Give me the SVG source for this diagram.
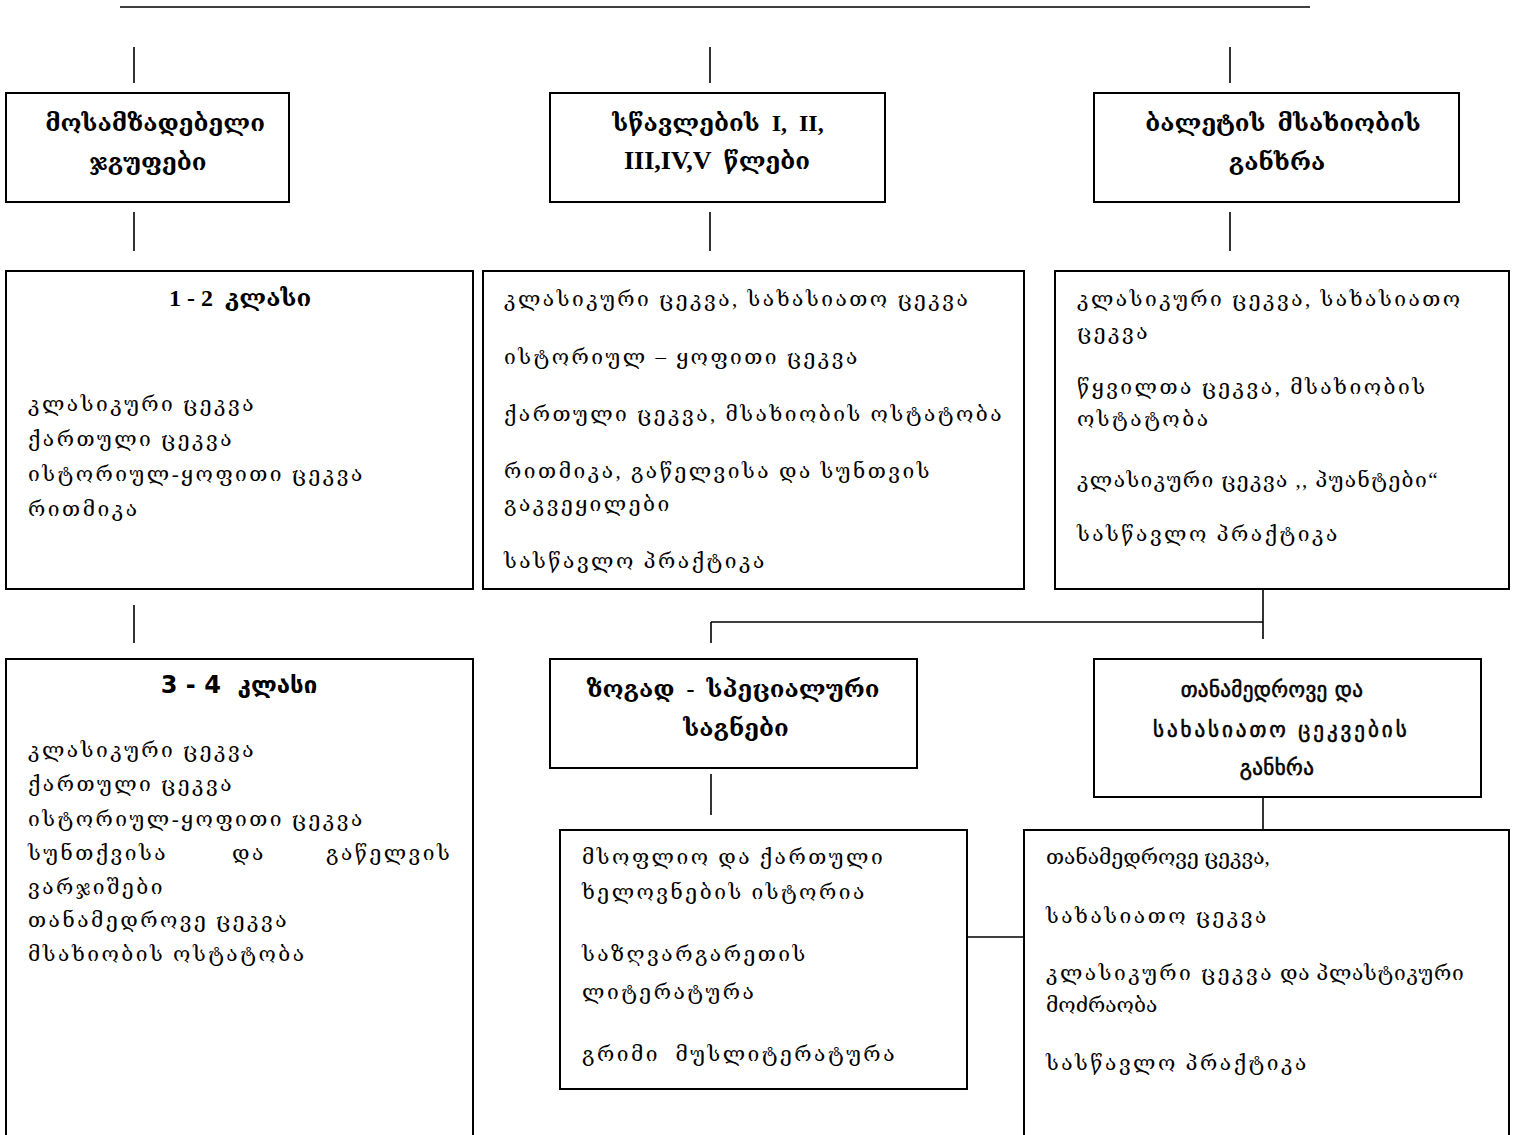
<svg xmlns="http://www.w3.org/2000/svg" width="1518" height="1135" viewBox="0 0 1518 1135">
<style>
text{white-space:pre}
.box{fill:#fff;stroke:#000;stroke-width:2}
.ln{stroke:#000;stroke-width:1.6;fill:none}
.t{font-family:'Liberation Serif','DejaVu Serif',serif;font-size:21px;letter-spacing:2.5px;fill:#000}
.n{font-family:'Liberation Serif','DejaVu Serif',serif;font-size:21px;fill:#000}
.m{font-family:'DejaVu Sans',sans-serif;font-size:21px;letter-spacing:0.4px;fill:#000;stroke:#000;stroke-width:0.6;text-anchor:middle}
.b{font-family:'Liberation Serif','DejaVu Serif',serif;font-size:24px;font-weight:bold;fill:#000;text-anchor:middle}
.bs{font-family:'DejaVu Sans',sans-serif;font-size:24px;font-weight:bold;fill:#000;text-anchor:middle}
</style>
<rect width="1518" height="1135" fill="#fff"/>
<g id="connectors" class="ln">
<path d="M120 7H1310"/>
<path d="M134 47V83M710 47V83M1230 47V83"/>
<path d="M134 212V251M710 212V251M1230 212V251"/>
<path d="M134 605V643"/>
<path d="M1263 589V639M711 622H1263M711 622V643"/>
<path d="M711 774V815"/>
<path d="M967 937H1024"/>
<path d="M1263 797V830"/>
</g>
<g id="n-prep">
<rect class="box" x="6" y="93" width="283" height="109"/>
<text class="b" x="155" y="131">მოსამზადებელი</text>
<text class="b" x="148" y="170">ჯგუფები</text>
</g>
<g id="n-years">
<rect class="box" x="550" y="93" width="335" height="109"/>
<text class="b" x="718" y="131">სწავლების  I,  II,</text>
<text class="b" x="717" y="169"><tspan font-size="26">III,IV,V</tspan>  წლები</text>
</g>
<g id="n-ballet">
<rect class="box" x="1094" y="93" width="365" height="109"/>
<text class="b" x="1283" y="131">ბალეტის  მსახიობის</text>
<text class="b" x="1277" y="170">განხრა</text>
</g>
<g id="n-c12">
<rect class="box" x="6" y="271" width="467" height="318"/>
<text class="b" x="240" y="306">1 - 2  კლასი</text>
<text class="t" x="28" y="411">კლასიკური ცეკვა</text>
<text class="t" x="28" y="446">ქართული ცეკვა</text>
<text class="t" x="28" y="481">ისტორიულ-ყოფითი ცეკვა</text>
<text class="t" x="28" y="516">რითმიკა</text>
</g>
<g id="n-years-body">
<rect class="box" x="483" y="271" width="541" height="318"/>
<text class="t" x="504" y="306">კლასიკური ცეკვა, სახასიათო ცეკვა</text>
<text class="t" x="504" y="364">ისტორიულ – ყოფითი ცეკვა</text>
<text class="t" x="504" y="421">ქართული ცეკვა, მსახიობის ოსტატობა</text>
<text class="t" x="504" y="478">რითმიკა, გაწელვისა და სუნთვის</text>
<text class="t" x="504" y="511">გაკვეყილები</text>
<text class="t" x="504" y="568">სასწავლო პრაქტიკა</text>
</g>
<g id="n-ballet-body">
<rect class="box" x="1055" y="271" width="454" height="318"/>
<text class="t" x="1077" y="306">კლასიკური ცეკვა, სახასიათო</text>
<text class="t" x="1077" y="339">ცეკვა</text>
<text class="t" x="1077" y="394">წყვილთა ცეკვა, მსახიობის</text>
<text class="t" x="1077" y="426">ოსტატობა</text>
<text class="t" x="1077" y="487" textLength="363" lengthAdjust="spacing">კლასიკური ცეკვა ,, პუანტები“</text>
<text class="t" x="1077" y="541">სასწავლო პრაქტიკა</text>
</g>
<g id="n-c34">
<rect class="box" x="6" y="659" width="467" height="500"/>
<text class="bs" x="239" y="693">3 - 4  კლასი</text>
<text class="t" x="28" y="757">კლასიკური ცეკვა</text>
<text class="t" x="28" y="791">ქართული ცეკვა</text>
<text class="t" x="28" y="826">ისტორიულ-ყოფითი ცეკვა</text>
<text class="t" x="28" y="860">სუნთქვისა</text>
<text class="t" x="232" y="860">და</text>
<text class="t" x="326" y="860">გაწელვის</text>
<text class="t" x="28" y="894">ვარჯიშები</text>
<text class="t" x="28" y="927">თანამედროვე ცეკვა</text>
<text class="t" x="28" y="961">მსახიობის ოსტატობა</text>
</g>
<g id="n-general">
<rect class="box" x="550" y="659" width="367" height="109"/>
<text class="b" x="733" y="697">ზოგად  -  სპეციალური</text>
<text class="b" x="736" y="736">საგნები</text>
</g>
<g id="n-modern">
<rect class="box" x="1094" y="659" width="387" height="138"/>
<text class="m" x="1272" y="697">თანამედროვე და</text>
<text class="m" x="1280" y="737" textLength="254" lengthAdjust="spacing">სახასიათო ცეკვების</text>
<text class="m" x="1277" y="775">განხრა</text>
</g>
<g id="n-general-body">
<rect class="box" x="560" y="830" width="407" height="259"/>
<text class="t" x="582" y="864">მსოფლიო და ქართული</text>
<text class="t" x="582" y="899">ხელოვნების ისტორია</text>
<text class="t" x="582" y="961">საზღვარგარეთის</text>
<text class="t" x="582" y="999">ლიტერატურა</text>
<text class="t" x="582" y="1061">გრიმი  მუსლიტერატურა</text>
</g>
<g id="n-modern-body">
<rect class="box" x="1024" y="830" width="485" height="320"/>
<text class="n" x="1046" y="864">თანამედროვე ცეკვა,</text>
<text class="t" x="1046" y="923">სახასიათო ცეკვა</text>
<text class="t" x="1046" y="980">კლასიკური ცეკვა<tspan class="n" letter-spacing="0.7"> და პლასტიკური</tspan></text>
<text class="n" x="1046" y="1012">მოძრაობა</text>
<text class="t" x="1046" y="1070">სასწავლო პრაქტიკა</text>
</g>
</svg>
